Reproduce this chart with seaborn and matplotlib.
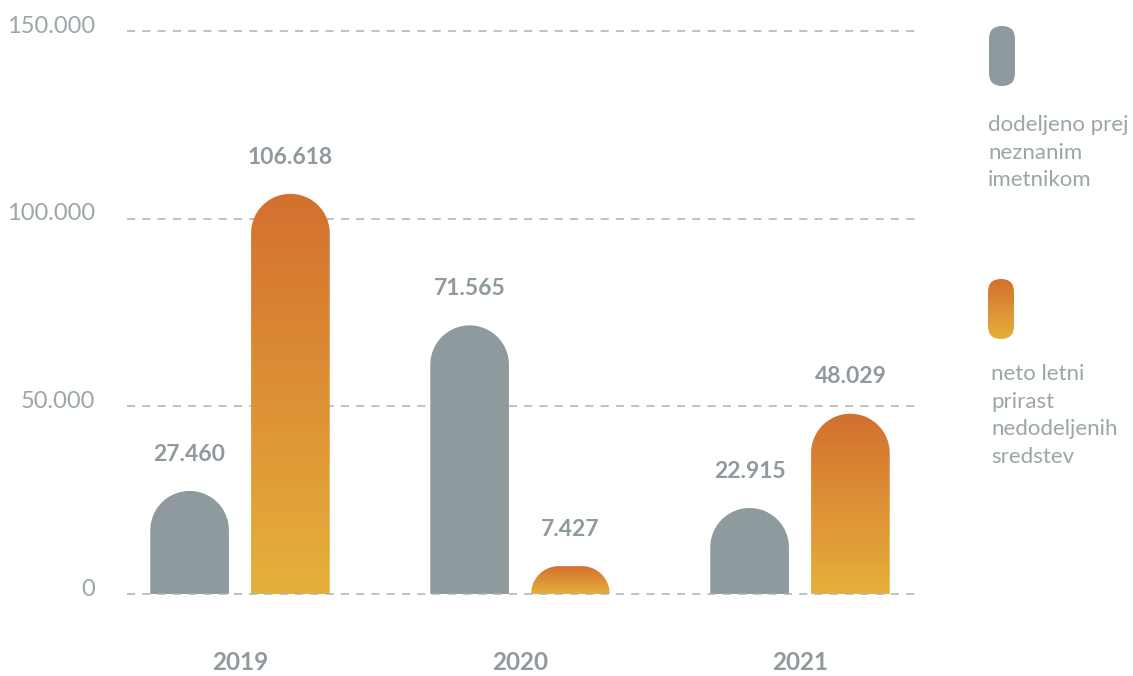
import numpy as np
import pandas as pd
import seaborn as sns
import matplotlib
matplotlib.use("Agg")
from matplotlib import pyplot as plt
from matplotlib.patches import PathPatch, FancyBboxPatch
from matplotlib.path import Path
from matplotlib.colors import LinearSegmentedColormap
import matplotlib.transforms as mtransforms

# Data
years = ["2019", "2020", "2021"]
series = ["dodeljeno prej neznanim imetnikom", "neto letni prirast nedodeljenih sredstev"]
assigned = [27460, 71565, 22915]
net_growth = [106618, 7427, 48029]
legend_texts = ["dodeljeno prej\nneznanim\nimetnikom", "neto letni\nprirast\nnedodeljenih\nsredstev"]
y_ticks = [0, 50000, 100000, 150000]

df = pd.DataFrame({
    "year": years * 2,
    "series": [series[0]] * 3 + [series[1]] * 3,
    "value": assigned + net_growth,
})

GRAY = "#8e9a9d"
ORANGE_TOP = "#d3702f"
ORANGE_BOTTOM = "#e6b03b"
TEXT_GRAY = "#8e9a9d"
TICK_GRAY = "#9aa6a8"
GRID_GRAY = "#a9b3b5"

sns.set_style("white")
plt.rcParams["font.family"] = ["Lato", "DejaVu Sans"]

fig = plt.figure(figsize=(11.33, 6.76), dpi=100)
ax = fig.add_axes([127 / 1133, 82 / 676, 788 / 1133, 563 / 676])

sns.barplot(data=df, x="year", y="value", hue="series",
            palette=[GRAY, ORANGE_TOP], width=0.72, gap=0.22,
            legend=False, ax=ax)

ax.set_xlim(-0.4036, 2.4107)
ax.set_ylim(0, 150000)
ax.set_autoscale_on(False)

# Grid
ax.set_yticks(y_ticks)
ax.set_yticklabels([f"{t:,}".replace(",", ".") for t in y_ticks])
dash = (0, (5.3, 4.7))
for t in y_ticks:
    ax.axhline(t, color=GRID_GRAY, linewidth=1.1, linestyle=dash,
               zorder=5 if t == 0 else 0.5, clip_on=False)
sns.despine(ax=ax, left=True, bottom=True)
ax.tick_params(axis="y", length=0, pad=23, labelsize=17, labelcolor=TICK_GRAY)
ax.tick_params(axis="x", length=0, pad=41, labelsize=17.5, labelcolor=TEXT_GRAY)
for lab in ax.get_xticklabels():
    lab.set_fontweight("bold")
shift = mtransforms.ScaledTranslation(0, 5 / 72, fig.dpi_scale_trans)
for lab in ax.get_yticklabels():
    lab.set_transform(lab.get_transform() + shift)
ax.set_xlabel("")
ax.set_ylabel("")

orange_cmap = LinearSegmentedColormap.from_list("og", [ORANGE_BOTTOM, ORANGE_TOP])


def rounded_top(x0, x1, y0, y1):
    # pixel-space path with rounded top corners
    w = x1 - x0
    h = y1 - y0
    r = min(w / 2, h)
    a1 = np.linspace(0, np.pi / 2, 30)
    a2 = np.linspace(np.pi / 2, np.pi, 30)
    pts = [(x0, y0), (x1, y0)]
    pts += list(zip(x1 - r + r * np.cos(a1), y1 - r + r * np.sin(a1)))
    pts += list(zip(x0 + r + r * np.cos(a2), y1 - r + r * np.sin(a2)))
    pts.append((x0, y0))
    return np.array(pts)


gray_rgb = matplotlib.colors.to_rgba(GRAY)
for p in list(ax.patches):
    if p.get_height() <= 0:
        continue
    x0d, w, hd = p.get_x(), p.get_width(), p.get_height()
    is_gray = np.allclose(p.get_facecolor(), gray_rgb, atol=0.02)
    p.set_visible(False)
    (px0, py0), (px1, py1) = ax.transData.transform([(x0d, 0), (x0d + w, hd)])
    verts = ax.transData.inverted().transform(rounded_top(px0, px1, py0, py1))
    path = Path(verts, closed=True)
    if is_gray:
        ax.add_patch(PathPatch(path, facecolor=GRAY, edgecolor="none", zorder=2))
    else:
        clip = PathPatch(path, facecolor="none", edgecolor="none")
        ax.add_patch(clip)
        grad = np.linspace(1, 0, 256).reshape(-1, 1)
        im = ax.imshow(grad, extent=[x0d, x0d + w, 0, hd], aspect="auto",
                       cmap=orange_cmap, origin="upper", zorder=2)
        im.set_clip_path(clip)
    ax.annotate(f"{int(hd):,}".replace(",", "."), (x0d + w / 2, hd),
                xytext=(0, 26.5), textcoords="offset points",
                ha="center", va="center", fontsize=16.5, fontweight="bold",
                color=TEXT_GRAY)

ax.set_xlim(-0.4036, 2.4107)
ax.set_ylim(0, 150000)

# Legend (pixel coordinates overlay)
lax = fig.add_axes([0, 0, 1, 1], zorder=10)
lax.set_xlim(0, 1133)
lax.set_ylim(676, 0)
lax.axis("off")
lax.patch.set_alpha(0)

lax.add_patch(FancyBboxPatch((989, 26), 26, 60,
                             boxstyle="round,pad=0,rounding_size=13",
                             facecolor=GRAY, edgecolor="none"))
sw = FancyBboxPatch((988, 279), 26, 60, boxstyle="round,pad=0,rounding_size=13",
                    facecolor="none", edgecolor="none")
lax.add_patch(sw)
im = lax.imshow(np.linspace(0, 1, 256).reshape(-1, 1)[::-1],
                extent=[988, 1014, 339, 279], aspect="auto", cmap=orange_cmap)
im.set_clip_path(sw)
lax.set_xlim(0, 1133)
lax.set_ylim(676, 0)

lax.text(988, 115, legend_texts[0], ha="left", va="top", fontsize=16,
         color=TICK_GRAY, linespacing=1.48)
lax.text(991, 364, legend_texts[1], ha="left", va="top", fontsize=16,
         color=TICK_GRAY, linespacing=1.48)

fig.savefig("out.png", dpi=100)
